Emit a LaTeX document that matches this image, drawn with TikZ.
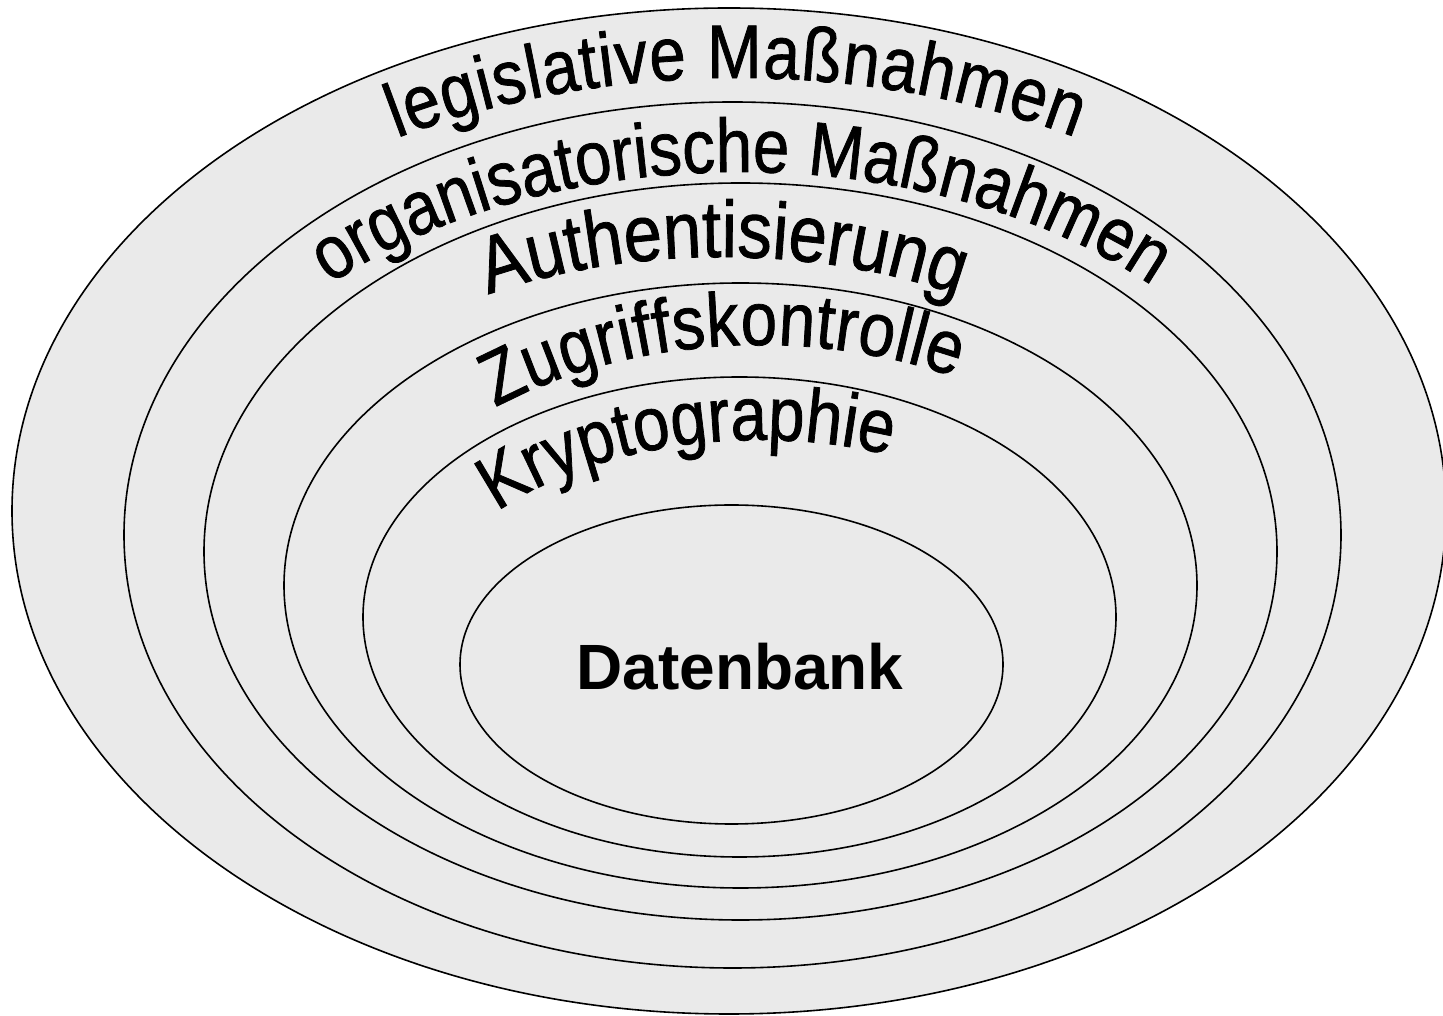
\documentclass[tikz,border=0pt]{standalone}
\usepackage{fontspec}
\setmainfont{Liberation Sans}
\newfontfamily\arcfont[FakeStretch=0.86,FakeBold=1]{Liberation Sans}
\usetikzlibrary{decorations.text,calc}
\definecolor{ringfill}{RGB}{234,234,234}

\begin{document}
\begin{tikzpicture}[x=1pt,y=1pt,
  ring/.style={draw=black, line width=1.6pt},
  arclabel/.style 2 args={decorate, decoration={text along path,
      text align={fit to path},
      text={|\arcfont\fontsize{#1}{#1}\selectfont|#2}}}]

\fill[white] (0,0) rectangle (1443,1015);
\useasboundingbox (0,0) rectangle (1443,1015);

% ring centres (outer to inner)
\coordinate (e1) at (729,504);
\coordinate (e2) at (732.5,480);
\coordinate (e3) at (740.5,463.5);
\coordinate (e4) at (740.5,429.5);
\coordinate (e5) at (739.5,398);
\coordinate (e6) at (731.5,350.5);

% shaded layers
\fill[ringfill] (e1) ellipse[x radius=717, y radius=503];
\draw[ring] (e1) ellipse[x radius=717, y radius=503];
\draw[ring] (e2) ellipse[x radius=608.5, y radius=433];
\draw[ring] (e3) ellipse[x radius=536.5, y radius=368.5];
\draw[ring] (e4) ellipse[x radius=456.5, y radius=302.5];
\draw[ring] (e5) ellipse[x radius=376.5, y radius=240];
\draw[ring] (e6) ellipse[x radius=271.5, y radius=159.5];

% centres of the curved baselines
\coordinate (b1) at (737,495);
\coordinate (b2) at (740,475);
\coordinate (b3) at (722,535);
\coordinate (b4) at (760,375);
\coordinate (b5) at (760,375);

\path[arclabel={76}{legislative Maßnahmen}]
  ($(b1)+(120.2:676 and 442)$) arc[start angle=120.2, end angle=60, x radius=676, y radius=442];
\path[arclabel={76}{organisatorische Maßnahmen}]
  ($(b2)+(136:570 and 368)$) arc[start angle=136, end angle=44.6, x radius=570, y radius=368];
\path[arclabel={80}{Authentisierung}]
  ($(b3)+(123.8:420 and 223)$) arc[start angle=123.8, end angle=56.3, x radius=420, y radius=223];
\path[arclabel={76}{Zugriffskontrolle}]
  ($(b4)+(128:430 and 295)$) arc[start angle=128, end angle=63, x radius=430, y radius=295];
\path[arclabel={76}{Kryptographie}]
  ($(b5)+(140.2:342 and 200)$) arc[start angle=140.2, end angle=67.7, x radius=342, y radius=200];

\node[font=\bfseries\fontsize{64}{64}\selectfont, inner sep=0] (db) at (740,348) {Datenbank};

\end{tikzpicture}
\end{document}
